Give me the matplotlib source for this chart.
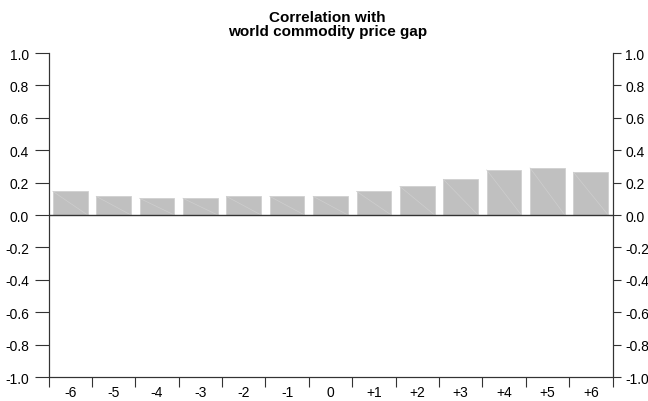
import matplotlib
matplotlib.use("Agg")
import matplotlib.pyplot as plt
import numpy as np

plt.rcParams['font.family'] = ['Liberation Sans', 'DejaVu Sans']

categories = ["-6", "-5", "-4", "-3", "-2", "-1", "0", "+1", "+2", "+3", "+4", "+5", "+6"]
values = [0.146, 0.115, 0.103, 0.103, 0.115, 0.115, 0.115, 0.146, 0.176, 0.22, 0.278, 0.29, 0.264]
yticks = [-1.0, -0.8, -0.6, -0.4, -0.2, 0.0, 0.2, 0.4, 0.6, 0.8, 1.0]

fig = plt.figure(figsize=(6.48, 4.02), dpi=100)
L, R, T, B = 48.5, 612.5, 54, 378
ax = fig.add_axes([L/648, 1 - B/402, (R-L)/648, (B-T)/402])

x = np.arange(len(categories))
w = 0.8
ax.bar(x, values, width=w, color="#c0c0c0", edgecolor="#d0d0d0", linewidth=0.6, zorder=2)
# faint diagonal rendering artefact in each bar
for xi, v in zip(x, values):
    ax.plot([xi - w/2, xi + w/2], [v, 0], color="#cecece", linewidth=0.5, zorder=2.5)
ax.axhline(0, color="#333333", linewidth=1.0, zorder=3)

ax.set_xlim(-0.5, len(categories) - 0.5)
ax.set_ylim(-1.0, 1.0)

ax.set_xticks(np.arange(len(categories) + 1) - 0.5)
ax.set_xticklabels([])
ax.set_xticks(x, minor=True)
ax.set_xticklabels(categories, minor=True)
ax.tick_params(axis='x', which='major', direction='out', length=7, width=0.8, color="#333333")
ax.tick_params(axis='x', which='minor', length=0, pad=6, labelsize=10)

labels = [f"{v:.1f}".replace("-0.0", "0.0") for v in yticks]
ax.set_yticks(yticks)
ax.set_yticklabels(labels)
ax.tick_params(axis='y', which='major', direction='out', length=10, width=0.8, color="#333333",
               labelsize=10, left=True, right=False, labelleft=True, labelright=False, pad=4)

ax2 = ax.twinx()
ax2.set_ylim(-1.0, 1.0)
ax2.set_yticks(yticks)
ax2.set_yticklabels(labels)
ax2.tick_params(axis='y', which='major', direction='out', length=6, width=0.8, color="#333333",
                labelsize=10, pad=3)

for a in (ax, ax2):
    a.spines['top'].set_visible(False)
    for s in ['left', 'right', 'bottom']:
        a.spines[s].set_color("#333333")
        a.spines[s].set_linewidth(0.8)

fig.text(0.505, 1 - 25/402, "Correlation with\nworld commodity price gap", ha='center', va='center',
         fontsize=11, fontweight='bold', linespacing=1.0)

fig.savefig("out.png", dpi=100)
